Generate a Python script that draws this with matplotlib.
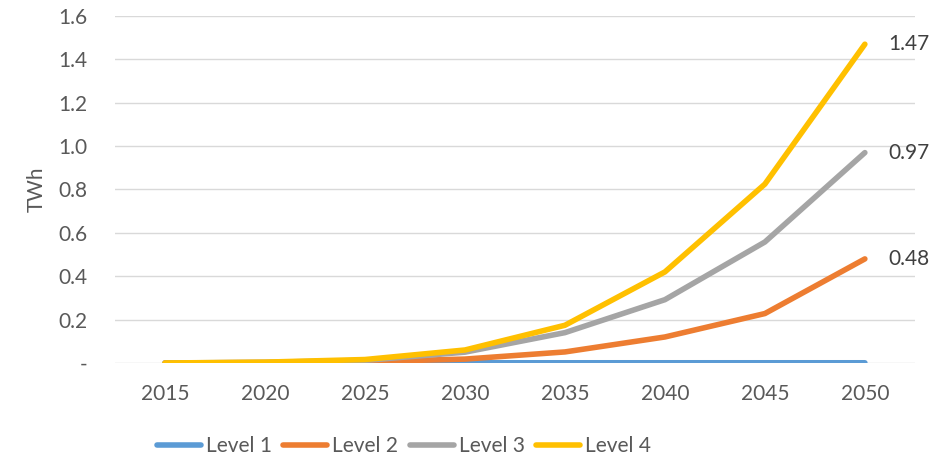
import matplotlib.pyplot as plt
from matplotlib.ticker import FuncFormatter

years = ["2015", "2020", "2025", "2030", "2035", "2040", "2045", "2050"]
level_1 = [0.0, 0.0, 0.0, 0.001, 0.001, 0.001, 0.001, 0.001]
level_2 = [0.0, 0.002, 0.006, 0.018, 0.051, 0.12, 0.228, 0.48]
level_3 = [0.0, 0.003, 0.012, 0.05, 0.14, 0.292, 0.558, 0.97]
level_4 = [0.0, 0.004, 0.016, 0.06, 0.174, 0.42, 0.825, 1.47]

series = [
    ("Level 1", level_1, "#5B9BD5"),
    ("Level 2", level_2, "#ED7D31"),
    ("Level 3", level_3, "#A5A5A5"),
    ("Level 4", level_4, "#FFC000"),
]

plt.rcParams['font.family'] = ['Lato', 'DejaVu Sans']
text_color = "#595959"

fig = plt.figure(figsize=(9.51, 4.61), dpi=100)
ax = fig.add_axes([0.121, 0.2126, 0.841, 0.7527])

x = list(range(len(years)))
for name, values, color in series:
    ax.plot(x, values, color=color, lw=4.0, solid_capstyle='round',
            solid_joinstyle='round', label=name)

# end-of-line labels
for name, values, color in series[1:]:
    ax.annotate(f"{values[-1]:.2f}", (x[-1], values[-1]), xytext=(17, 0),
                textcoords='offset points', va='center', ha='left',
                fontsize=15, color="#404040")

ax.set_xlim(-0.5, len(years) - 0.5)
ax.set_ylim(0, 1.6)
ax.set_yticks([i * 0.2 for i in range(9)])
ax.yaxis.set_major_formatter(FuncFormatter(lambda v, p: "-" if abs(v) < 1e-9 else f"{v:.1f}"))
ax.set_xticks(x)
ax.set_xticklabels(years)

ax.grid(axis='y', color="#D9D9D9", lw=1)
ax.set_axisbelow(True)
for s in ax.spines.values():
    s.set_visible(False)
ax.tick_params(axis='both', length=0, labelsize=15, colors=text_color)
ax.tick_params(axis='y', pad=20)
ax.tick_params(axis='x', pad=15)
ax.set_ylabel("TWh", fontsize=15, color=text_color, labelpad=8)

fig.legend(loc='center', bbox_to_anchor=(0.425, 0.0325), ncol=4, frameon=False,
           fontsize=15, handlelength=2.1, handletextpad=0.25, columnspacing=0.55,
           labelcolor=text_color)

fig.savefig("out.png", dpi=100)
